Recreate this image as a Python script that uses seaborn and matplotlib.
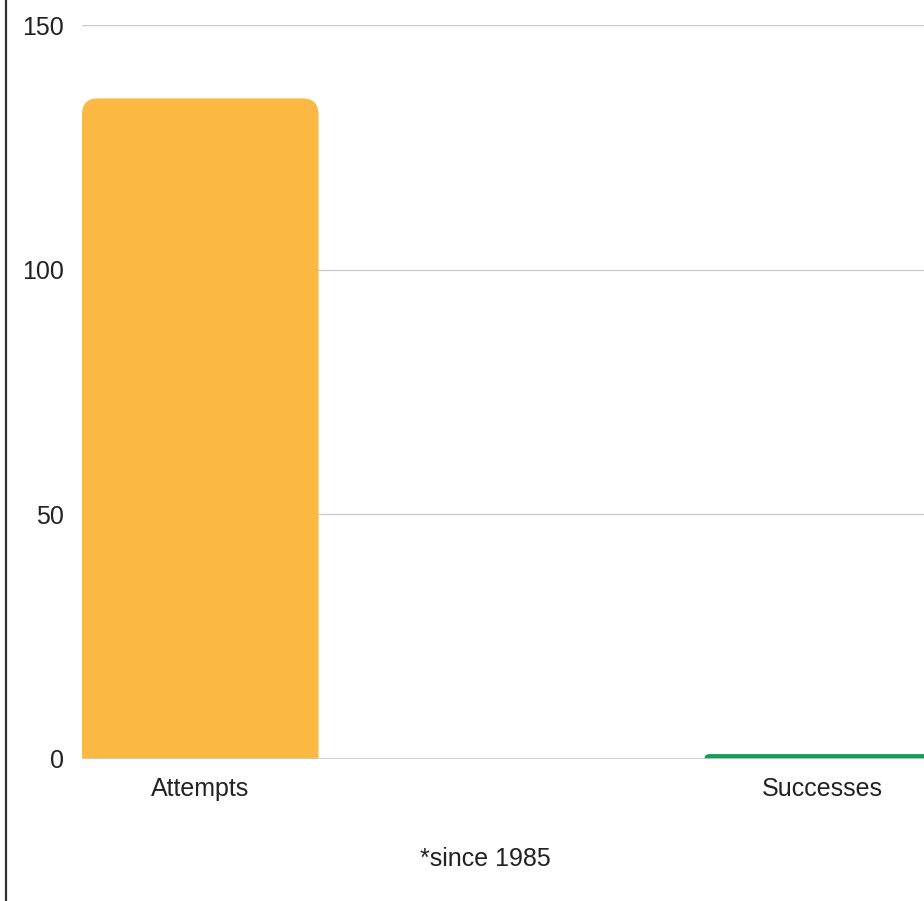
import matplotlib.pyplot as plt
import pandas as pd
import seaborn as sns
from matplotlib.lines import Line2D
from matplotlib.patches import FancyBboxPatch

categories = ["Attempts", "Successes"]
values = [135, 1]
colors = ["#FBB843", "#0F9D58"]

sns.set_theme(style="white")
plt.rcParams["font.family"] = ["Liberation Sans", "DejaVu Sans"]

df = pd.DataFrame({"category": categories, "value": values})

fig = plt.figure(figsize=(9.24, 9.01), dpi=100)
ax = fig.add_axes([82 / 924, 142 / 901, 859 / 924, 734 / 901])

sns.barplot(data=df, x="category", y="value", hue="category",
            palette=colors, saturation=1, width=0.38, legend=False,
            ax=ax, zorder=3)

# swap the square bars for ones with rounded tops
radius_px = 16
for patch in list(ax.patches):
    x0, w, h = patch.get_x(), patch.get_width(), patch.get_height()
    color = patch.get_facecolor()
    patch.remove()
    # convert pixel radius into data units for both axes
    x_per_px = (1.19 + 0.19) / 859
    y_per_px = 150 / 734
    r = min(radius_px, h / y_per_px if h > 0 else radius_px) * x_per_px
    rounded = FancyBboxPatch(
        (x0 + r, -radius_px * y_per_px), w - 2 * r, h + radius_px * y_per_px - r * y_per_px / x_per_px,
        boxstyle=f"round,pad={r},rounding_size={r}",
        mutation_aspect=y_per_px / x_per_px,
        facecolor=color, edgecolor="none", zorder=3, clip_on=True,
    )
    ax.add_patch(rounded)

ax.set_xlim(-0.19, 1.19)
ax.set_ylim(0, 150)
ax.set_yticks([0, 50, 100, 150])
ax.yaxis.grid(True, color="#cccccc", linewidth=1)
ax.set_axisbelow(True)
ax.axhline(0, color="#cccccc", linewidth=1.2, zorder=4)
for side in ax.spines.values():
    side.set_visible(False)
ax.set_xlabel("")
ax.set_ylabel("")
ax.tick_params(axis="y", length=0, pad=13, labelsize=18, labelcolor="#222222")
ax.tick_params(axis="x", length=0, pad=13, labelsize=18, labelcolor="#222222")

fig.text(485 / 924, 1 - 859 / 901, "*since 1985", ha="center", va="center",
         fontsize=18, color="#222222")
fig.add_artist(Line2D([5.5 / 924, 5.5 / 924], [0, 1], transform=fig.transFigure,
                      color="#333333", linewidth=1.6))

fig.savefig("out.png", dpi=100)
